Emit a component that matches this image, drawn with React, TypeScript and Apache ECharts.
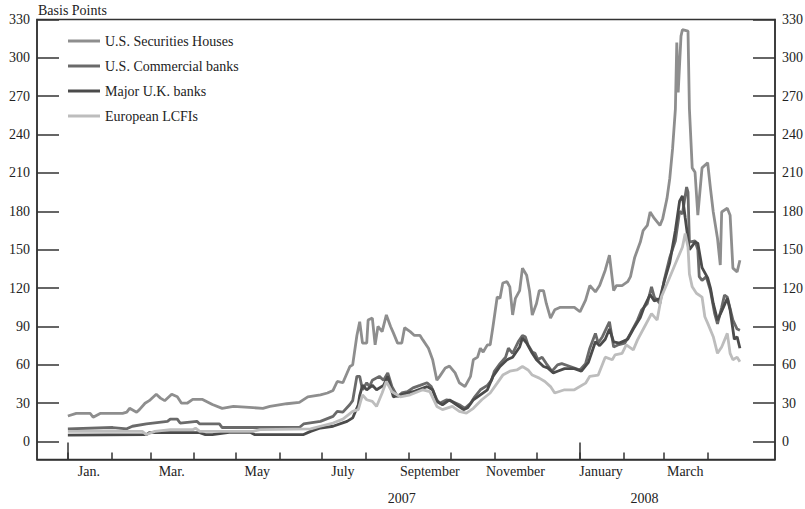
import React, { useEffect, useRef } from "react";
import * as echarts from "echarts";

// x values: days since 2007-01-01
const monthStarts = [0, 31, 59, 90, 120, 151, 181, 212, 243, 273, 304, 334, 365, 396, 425, 456];
const yearStarts = [0, 365];
const monthLabelPos = [15, 74, 135, 196, 258, 319, 380, 440];
const monthLabels = ["Jan.", "Mar.", "May", "July", "September", "November", "January", "March"];
const yearLabelPos = [238, 411];
const yearLabels = ["2007", "2008"];
const yTicks = [0, 30, 60, 90, 120, 150, 180, 210, 240, 270, 300, 330];

const seriesNames = ["U.S. Securities Houses", "U.S. Commercial banks", "Major U.K. banks", "European LCFIs"];
const seriesColors = ["#8e8e8e", "#6a6a6a", "#4b4b4b", "#bdbdbd"];

const securities: [number, number][] = [
  [0, 20], [6, 22], [16, 22], [18, 19], [23, 22], [39, 22], [42, 23], [44, 26], [49, 23], [51, 25],
  [55, 30], [58, 32], [63, 37], [66, 34], [69, 32], [74, 37], [78, 35], [81, 30], [85, 30], [89, 33],
  [96, 33], [103, 29], [110, 26], [118, 27.5], [132, 26.5], [139, 26], [144, 27.5], [156, 29.6], [165, 30.6], [171, 35],
  [180, 36.6], [185, 38], [189, 40], [192, 47], [196, 46], [201, 58.7], [203, 60], [206, 83], [208, 93.7], [210, 77],
  [213, 77], [214, 95], [217, 96.6], [219, 75.6], [221, 90], [224, 86], [227, 99], [230, 90], [232, 85], [235, 77],
  [238, 77], [240, 89], [244, 86], [247, 83], [251, 83], [253, 79.5], [257, 73], [260, 64], [263, 48], [265, 51],
  [269, 57.6], [272, 59], [276, 53.7], [279, 46], [283, 43], [287, 51], [289, 64], [292, 66], [294, 73], [296, 70],
  [299, 75.6], [301, 75.6], [303, 90], [306, 113], [308, 112], [310, 124], [313, 125], [315, 121], [317, 99], [319, 112],
  [322, 118], [324, 135.6], [327, 130], [329, 118], [331, 99], [334, 108], [336, 118], [339, 118], [341, 108], [344, 96.6],
  [347, 103], [351, 105], [356, 105], [361, 105], [365, 101.5], [369, 110.6], [372, 122], [376, 117], [379, 122], [383, 134],
  [386, 145.7], [389, 118], [391, 122], [395, 122], [399, 125], [401, 129], [404, 144], [408, 156], [410, 165], [413, 169],
  [415, 179.5], [418, 174.5], [422, 169], [424, 174.5], [427, 190], [429, 205.7], [431, 229], [433, 260], [434, 312], [435, 273],
  [437, 317], [438, 322], [442, 321], [443, 260], [445, 214], [447, 210.6], [449, 177], [452, 214], [456, 218], [458, 198],
  [460, 179.5], [463, 159], [465, 138], [466, 179.5], [470, 182.5], [472, 177], [474, 135.6], [477, 132.7], [479, 141.8],
];

const commercial: [number, number][] = [
  [0, 10], [32, 11], [42, 10], [46, 12], [56, 13.8], [71, 15.8], [73, 17.6], [78, 17.6], [80, 14.5], [92, 15.8],
  [94, 13.8], [108, 13.8], [110, 11], [165, 11], [168, 13.8], [180, 15.8], [189, 19.7], [192, 23.6], [196, 23], [201, 29],
  [203, 32], [206, 51], [208, 51], [210, 40.5], [213, 46], [215, 43], [217, 48], [222, 51], [225, 48], [228, 53.7],
  [231, 43], [235, 35], [238, 38], [242, 39], [246, 42], [251, 44], [256, 46], [259, 43], [263, 32.7], [265, 30],
  [270, 32.7], [274, 31.4], [279, 28.8], [283, 26], [287, 30], [290, 35], [294, 40.5], [299, 44], [302, 48], [304, 55],
  [308, 61], [312, 66], [314, 73], [317, 69], [321, 78], [324, 83], [326, 82], [328, 75.6], [331, 70], [333, 69],
  [335, 64], [338, 66], [341, 61], [345, 55], [349, 60], [352, 61], [358, 58.7], [365, 56], [369, 61], [372, 73],
  [376, 84.6], [378, 77], [381, 82], [386, 93.7], [389, 74], [392, 75.6], [397, 77], [401, 84.6], [406, 95], [409, 103],
  [413, 108], [416, 121], [418, 113], [422, 108], [425, 126], [429, 144], [433, 157], [436, 180], [438, 178], [441, 199],
  [442, 195], [443, 156], [447, 157], [449, 150], [450, 129], [452, 126], [455, 129], [458, 118], [461, 100], [463, 92],
  [466, 105], [468, 114.5], [470, 113], [474, 95], [477, 88], [479, 87],
];

const ukBanks: [number, number][] = [
  [0, 5], [56, 5.5], [58, 7], [71, 7], [94, 7], [98, 5.5], [103, 5.5], [115, 7.3], [130, 7.3], [133, 5.5],
  [168, 5.5], [173, 8], [180, 10.6], [189, 12], [199, 15.8], [203, 18.5], [207, 28.8], [208, 36], [210, 44], [213, 40.5],
  [217, 44], [220, 40.5], [225, 44], [228, 51], [232, 35], [237, 36.6], [246, 39], [256, 43], [260, 40.5], [263, 31.4],
  [267, 28.8], [272, 32.7], [277, 28.8], [282, 25], [285, 26.5], [289, 32.7], [294, 36.6], [299, 40.5], [303, 51], [308, 58.7],
  [313, 64], [317, 66], [322, 74], [324, 81], [327, 77], [331, 69], [334, 64], [339, 58.7], [342, 57.6], [346, 53.7],
  [349, 55], [354, 57], [361, 57], [366, 55], [371, 62], [376, 78], [379, 75], [383, 80], [386, 88], [389, 78],
  [393, 77], [399, 80], [403, 88], [408, 97], [411, 106], [415, 115], [418, 110], [422, 112], [425, 125], [429, 140],
  [433, 165], [436, 188], [438, 192], [440, 175], [443, 150], [447, 156], [449, 155], [452, 136], [456, 128], [458, 120],
  [460, 108], [463, 95], [466, 102], [470, 112], [472, 103], [475, 80], [477, 82], [479, 73],
];

const european: [number, number][] = [
  [0, 8], [53, 8], [56, 5.5], [62, 8], [73, 9.3], [89, 9.3], [91, 10.5], [94, 8], [132, 8], [137, 9.3],
  [173, 10], [180, 12], [189, 14.5], [196, 17.6], [203, 23.6], [207, 25], [210, 36.6], [213, 32.7], [217, 31.4], [220, 27.5],
  [224, 38], [227, 47], [231, 39], [237, 35], [244, 36.6], [253, 40.5], [258, 39], [263, 27.5], [267, 25], [274, 27.5],
  [279, 23.6], [284, 22.3], [289, 26], [295, 32.7], [301, 38], [306, 45.7], [310, 52], [315, 55], [320, 56], [324, 58.7],
  [328, 56], [331, 52], [336, 49.6], [340, 47], [344, 43], [347, 38], [354, 40.5], [361, 40.5], [369, 45.7], [372, 51],
  [378, 52], [383, 66], [388, 64], [390, 67.8], [395, 69], [398, 75.6], [403, 71.7], [406, 79.5], [411, 89.8], [416, 100],
  [420, 95], [423, 113], [428, 126], [433, 139], [438, 152], [440, 162.6], [442, 152], [443, 131], [445, 121], [448, 116],
  [452, 113], [454, 97.6], [456, 92.6], [460, 82], [463, 69], [466, 74], [470, 84.6], [472, 69], [474, 64], [477, 66],
  [479, 62.5],
];

const seriesData = [securities, commercial, ukBanks, european];

const FONT = "'Liberation Serif', 'DejaVu Serif', serif";
const AXIS_COLOR = "#333";

export default function App() {
  const ref = useRef<HTMLDivElement>(null);

  useEffect(() => {
    if (!ref.current) return;
    const chart = echarts.init(ref.current, undefined, { renderer: "svg" });

    const yAxisCommon = (position: "left" | "right") => ({
      type: "value" as const,
      position,
      min: -14,
      max: 330,
      splitLine: { show: false },
      axisLine: { show: true, onZero: false, lineStyle: { color: AXIS_COLOR, width: 1.5 } },
      axisTick: {
        show: true,
        inside: true,
        length: 22,
        customValues: yTicks,
        lineStyle: { color: AXIS_COLOR, width: 1.5 },
      },
      axisLabel: {
        customValues: yTicks,
        margin: 7,
        color: "#222",
        fontFamily: FONT,
        fontSize: 14,
      },
    });

    chart.setOption({
      animation: false,
      backgroundColor: "#fff",
      title: {
        text: "Basis Points",
        left: 38,
        top: 3,
        padding: 0,
        textStyle: { fontFamily: FONT, fontSize: 14, fontWeight: "normal", color: "#222" },
      },
      legend: {
        orient: "vertical",
        left: 68,
        top: 34,
        padding: 0,
        icon: "rect",
        itemWidth: 32,
        itemHeight: 3,
        itemGap: 11,
        data: seriesNames,
        textStyle: { fontFamily: FONT, fontSize: 14, color: "#222" },
      },
      grid: {
        left: 37,
        right: 30,
        top: 19.5,
        bottom: 49.5,
        show: true,
        borderColor: AXIS_COLOR,
        borderWidth: 1.5,
        containLabel: false,
        outerBoundsMode: "none",
      },
      xAxis: [
        {
          type: "value",
          min: -22,
          max: 504,
          position: "bottom",
          splitLine: { show: false },
          axisLine: { show: true, onZero: false, lineStyle: { color: AXIS_COLOR, width: 1.5 } },
          axisTick: {
            show: true,
            inside: true,
            length: 7,
            customValues: monthStarts,
            lineStyle: { color: AXIS_COLOR, width: 1.5 },
          },
          axisLabel: {
            customValues: monthLabelPos,
            formatter: (v: number) => {
              const i = monthLabelPos.indexOf(v);
              return i >= 0 ? monthLabels[i] : "";
            },
            margin: 5,
            color: "#222",
            fontFamily: FONT,
            fontSize: 14,
          },
        },
        {
          type: "value",
          min: -22,
          max: 504,
          position: "bottom",
          splitLine: { show: false },
          axisLine: { show: false, onZero: false },
          axisTick: {
            show: true,
            inside: true,
            length: 17,
            customValues: yearStarts,
            lineStyle: { color: AXIS_COLOR, width: 1.5 },
          },
          axisLabel: {
            customValues: yearLabelPos,
            formatter: (v: number) => {
              const i = yearLabelPos.indexOf(v);
              return i >= 0 ? yearLabels[i] : "";
            },
            margin: 32,
            color: "#222",
            fontFamily: FONT,
            fontSize: 14,
          },
        },
      ],
      yAxis: [yAxisCommon("left"), yAxisCommon("right")],
      series: seriesNames.map((name, i) => ({
        name,
        type: "line",
        xAxisIndex: 0,
        yAxisIndex: 0,
        data: seriesData[i],
        showSymbol: false,
        symbol: "none",
        lineStyle: { width: 2.8, color: seriesColors[i] },
        itemStyle: { color: seriesColors[i] },
        z: 2 + i,
      })),
    });

    return () => chart.dispose();
  }, []);

  return (
    <div
      ref={ref}
      style={{ position: "fixed", left: 0, top: 0, width: 805, height: 509, background: "#fff" }}
    />
  );
}
